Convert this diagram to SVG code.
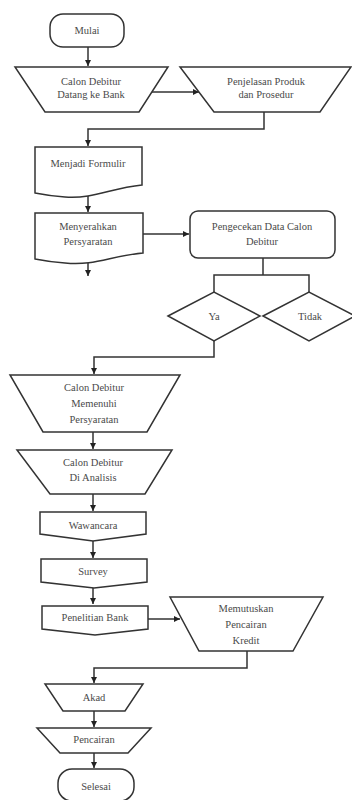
<svg xmlns="http://www.w3.org/2000/svg" width="352" height="800" viewBox="0 0 352 800">
<defs>
<marker id="ah" viewBox="0 0 10 10" refX="10" refY="5" markerWidth="6" markerHeight="6" orient="auto" markerUnits="userSpaceOnUse">
<path d="M0,0 L10,5 L0,10 Z" fill="#222"/>
</marker>
<style>
.s{fill:#fff;stroke:#333;stroke-width:1.5;stroke-linejoin:miter}
.c{fill:none;stroke:#333;stroke-width:1.5}
.a{marker-end:url(#ah)}
text{font-family:"Liberation Serif","Times New Roman",serif;font-size:10.5px;fill:#4a4a4a;text-anchor:middle}
</style>
</defs>
<rect width="352" height="800" fill="#fff"/>
<g id="connectors">
<path class="c a" d="M88,47 V66"/>
<path class="c a" d="M152,92 H199"/>
<path class="c a" d="M264,112 V129 H88 V146"/>
<path class="c a" d="M88,196 V212"/>
<path class="c a" d="M143,234 H189"/>
<path class="c a" d="M88,263 V276"/>
<path class="c" d="M263,258 V275 M214,292 V275 H309 V292"/>
<path class="c a" d="M214,341 V357 H94 V374"/>
<path class="c a" d="M93,432 V449"/>
<path class="c a" d="M93,494 V511"/>
<path class="c a" d="M93,541 V558"/>
<path class="c a" d="M93,588 V604"/>
<path class="c a" d="M148,619 H180"/>
<path class="c a" d="M247,651 V668 H94 V683"/>
<path class="c a" d="M94,711 V727"/>
<path class="c a" d="M94,753 V768"/>
</g>
<g id="mulai">
<rect class="s" x="50" y="14" width="74" height="33" rx="13"/>
<text x="87" y="34">Mulai</text>
</g>
<g id="calon-datang">
<path class="s" d="M15,67 H168 L139,112 H45 Z"/>
<text x="91" y="85">Calon Debitur</text>
<text x="91" y="98">Datang ke Bank</text>
</g>
<g id="penjelasan">
<path class="s" d="M180,67 H351 L320,112 H214 Z"/>
<text x="266" y="85">Penjelasan Produk</text>
<text x="266" y="98">dan Prosedur</text>
</g>
<g id="formulir">
<path class="s" d="M35,147 H142 V185 C110,188 95,199 65,197 C50,196 40,194 35,193 Z"/>
<text x="88" y="167">Menjadi Formulir</text>
</g>
<g id="menyerahkan">
<path class="s" d="M35,213 H143 V253 C110,256 95,266 65,263 C50,262 40,260 35,259 Z"/>
<text x="88" y="230">Menyerahkan</text>
<text x="88" y="245">Persyaratan</text>
</g>
<g id="pengecekan">
<rect class="s" x="190" y="211" width="145" height="47" rx="8"/>
<text x="262" y="230">Pengecekan Data Calon</text>
<text x="262" y="245">Debitur</text>
</g>
<g id="ya">
<path class="s" d="M168,316 L214,292 L260,316 L214,341 Z"/>
<text x="214" y="320">Ya</text>
</g>
<g id="tidak">
<path class="s" d="M263,316 L309,292 L355,316 L309,341 Z"/>
<text x="310" y="320">Tidak</text>
</g>
<g id="memenuhi">
<path class="s" d="M10,375 H180 L147,432 H43 Z"/>
<text x="94" y="391">Calon Debitur</text>
<text x="94" y="407">Memenuhi</text>
<text x="94" y="423">Persyaratan</text>
</g>
<g id="analisis">
<path class="s" d="M17,450 H172 L145,494 H50 Z"/>
<text x="93" y="466">Calon Debitur</text>
<text x="93" y="481">Di Analisis</text>
</g>
<g id="wawancara">
<path class="s" d="M40,512 H146 V534 L93,541 L40,534 Z"/>
<text x="93" y="529">Wawancara</text>
</g>
<g id="survey">
<path class="s" d="M41,559 H147 V582 L94,588 L41,582 Z"/>
<text x="93" y="575">Survey</text>
</g>
<g id="penelitian">
<path class="s" d="M42,606 H148 V629 L95,635 L42,629 Z"/>
<text x="95" y="621">Penelitian Bank</text>
</g>
<g id="memutuskan">
<path class="s" d="M170,597 H323 L293,651 H199 Z"/>
<text x="246" y="612">Memutuskan</text>
<text x="246" y="628">Pencairan</text>
<text x="246" y="644">Kredit</text>
</g>
<g id="akad">
<path class="s" d="M45,684 H143 L125,711 H63 Z"/>
<text x="94" y="701">Akad</text>
</g>
<g id="pencairan">
<path class="s" d="M37,728 H151 L128,753 H60 Z"/>
<text x="94" y="743">Pencairan</text>
</g>
<g id="selesai">
<rect class="s" x="58" y="769" width="76" height="32" rx="14"/>
<text x="96" y="790">Selesai</text>
</g>
</svg>
